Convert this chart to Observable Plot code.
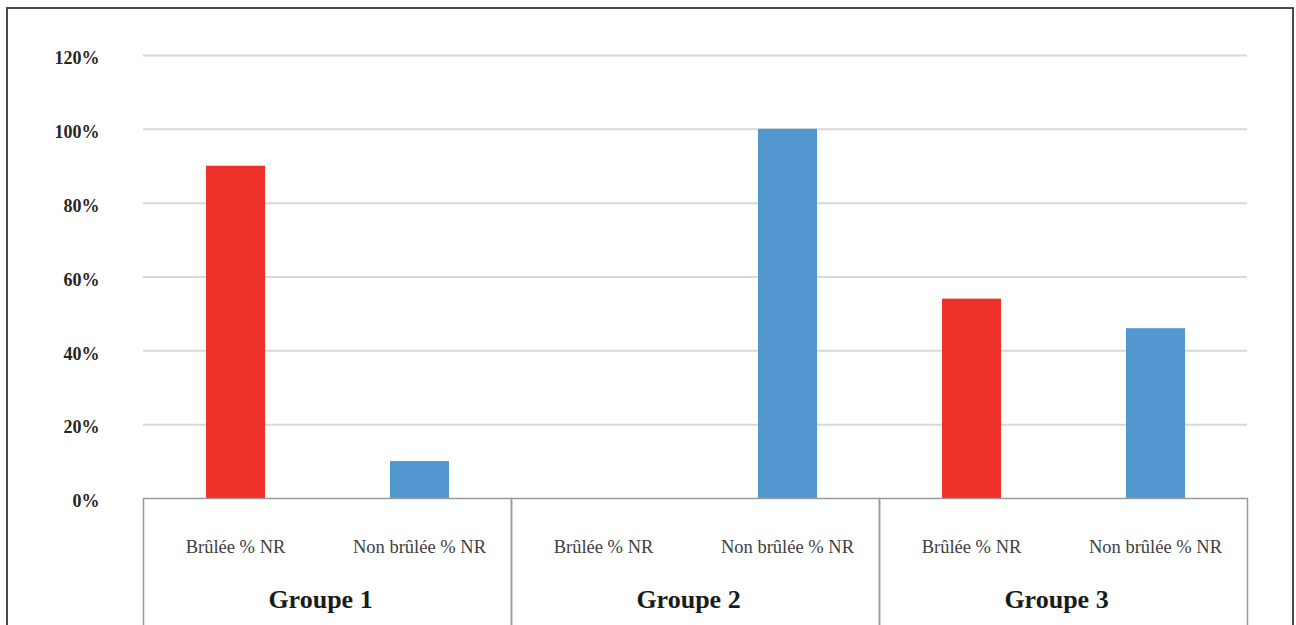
<!DOCTYPE html>
<html>
<head>
<meta charset="utf-8">
<script src="https://cdn.jsdelivr.net/npm/d3@7"></script>
<script src="https://cdn.jsdelivr.net/npm/@observablehq/plot@0.6"></script>
<style>
  html, body { margin: 0; padding: 0; background: #fff; overflow: hidden; width: 1296px; height: 625px; }
  #page { position: relative; width: 1296px; height: 625px; }
  #border { position: absolute; left: 6px; top: 7px; width: 1288px; height: 700px; border: 2px solid #4a4a4a; box-sizing: border-box; }
  #bars, #cats { position: absolute; left: 0; }
  #bars { top: 0; }
  #cats { top: 497px; }
  svg { overflow: visible; }
</style>
</head>
<body>
<div id="page">
  <div id="border"></div>
  <div id="bars"></div>
  <div id="cats"></div>
</div>
<script>
// Groups and the two measures compared in each
const groups = ["Groupe 1", "Groupe 2", "Groupe 3"];
const categories = ["Brûlée % NR", "Non brûlée % NR"];
const brulee = [0.90, 0.00, 0.54];
const nonBrulee = [0.10, 1.00, 0.46];
const yTicks = [0, 0.2, 0.4, 0.6, 0.8, 1.0, 1.2];
const colors = ["#ee3129", "#5397d1"];

const rows = groups.flatMap((g, i) => [
  {group: g, category: categories[0], value: brulee[i]},
  {group: g, category: categories[1], value: nonBrulee[i]}
]);

const serif = "'Liberation Serif', 'Times New Roman', serif";
const width = 1296;
const marginLeft = 142;
const marginRight = 48;

// Shared horizontal layout: one facet per group, two bands per facet
const fxScale = {domain: groups, padding: 0, axis: null};
const xScale = {domain: categories, paddingInner: 0.68, paddingOuter: 0.34, axis: null};

const bars = Plot.plot({
  width,
  height: 498,
  marginLeft,
  marginRight,
  marginTop: 55,
  marginBottom: 0,
  fx: fxScale,
  x: xScale,
  y: {domain: [0, 1.2], axis: null},
  color: {domain: categories, range: colors},
  marks: [
    Plot.gridY(yTicks.slice(1), {stroke: "#d9d9d9", strokeOpacity: 1, strokeWidth: 2}),
    Plot.axisY(yTicks, {
      tickFormat: d3.format(".0%"),
      tickSize: 0,
      tickPadding: 44,
      dy: 3,
      fontSize: 18,
      fontWeight: "bold",
      fontFamily: serif,
      fill: "#262626",
      label: null
    }),
    Plot.barY(rows, {fx: "group", x: "category", y: "value", fill: "category"})
  ]
});
document.getElementById("bars").append(bars);

// Category boxes under the bars: one framed cell per group
const cats = Plot.plot({
  width,
  height: 142,
  marginLeft,
  marginRight,
  marginTop: 1,
  marginBottom: 0,
  fx: fxScale,
  x: xScale,
  marks: [
    Plot.frame({stroke: "#9a9a9a", strokeWidth: 1.5}),
    Plot.text(rows, {
      fx: "group", x: "category", text: "category",
      frameAnchor: "top", dy: 41,
      fontSize: 18.5, fontFamily: serif, fill: "#404040"
    }),
    Plot.text(groups, {
      fx: d => d, text: d => d,
      frameAnchor: "top", dx: -7, dy: 91,
      fontSize: 26, fontWeight: "bold", fontFamily: serif, fill: "#1a1a1a"
    })
  ]
});
document.getElementById("cats").append(cats);
</script>
</body>
</html>
